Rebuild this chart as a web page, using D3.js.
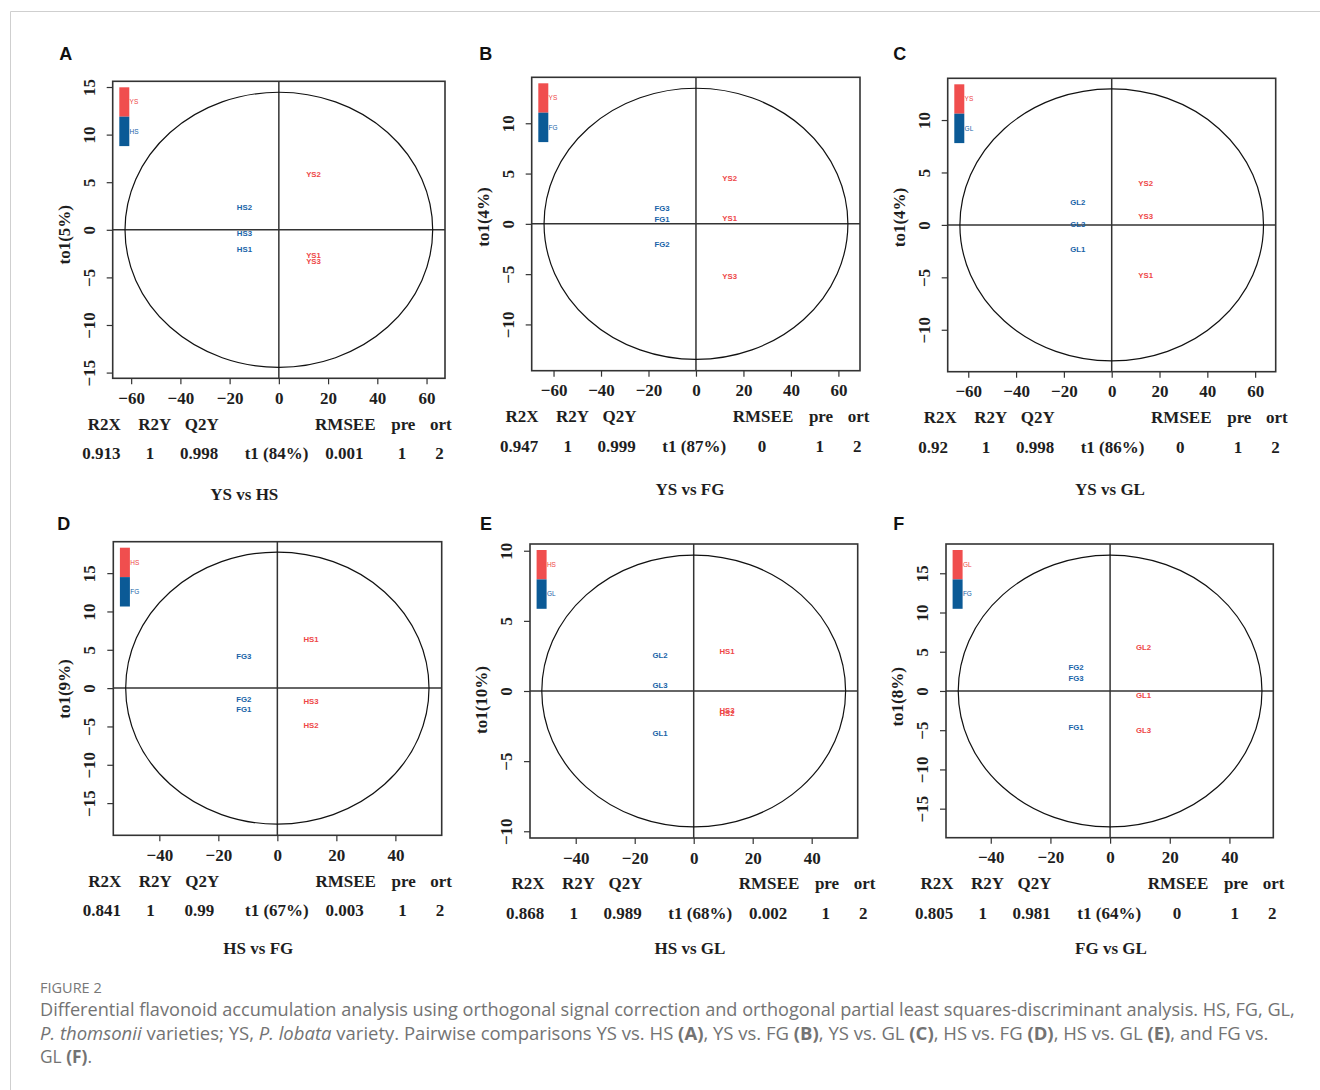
<!DOCTYPE html>
<html><head><meta charset="utf-8">
<script src="https://cdn.jsdelivr.net/npm/d3@7"></script>
<style>body{margin:0;background:#fff} svg{display:block}</style>
</head><body>
<svg id="c" width="1320" height="1090"></svg>
<script>
// ---------------- DATA ----------------
const panelLetters = ["A","B","C","D","E","F"];
const panelTitles = ["YS vs HS","YS vs FG","YS vs GL","HS vs FG","HS vs GL","FG vs GL"];
const yAxisLabels = ["to1(5%)","to1(4%)","to1(4%)","to1(9%)","to1(10%)","to1(8%)"];
const xAxisLabels = ["t1 (84%)","t1 (87%)","t1 (86%)","t1 (67%)","t1 (68%)","t1 (64%)"];
const groupRed  = ["YS","YS","YS","HS","HS","GL"];
const groupBlue = ["HS","FG","GL","FG","GL","FG"];
const summaryHeader = ["R2X","R2Y","Q2Y","RMSEE","pre","ort"];
const r2xValues   = ["0.913","0.947","0.92","0.841","0.868","0.805"];
const r2yValues   = ["1","1","1","1","1","1"];
const q2yValues   = ["0.998","0.999","0.998","0.99","0.989","0.981"];
const rmseeValues = ["0.001","0","0","0.003","0.002","0"];
const preValues   = ["1","1","1","1","1","1"];
const ortValues   = ["2","2","2","2","2","2"];
const xDomains = [[-67.5,67.5],[-69.2,69.1],[-68.6,68.6],[-55.6,55.7],[-55.5,55.6],[-55.0,54.7]];
const yDomains = [[-15.6,15.6],[-14.6,14.57],[-14.0,13.98],[-19.2,19.1],[-10.48,10.48],[-18.7,18.73]];
const xTicksWide = [-60,-40,-20,0,20,40,60];
const xTicksNarrow = [-40,-20,0,20,40];
const xTickSets = [xTicksWide,xTicksWide,xTicksWide,xTicksNarrow,xTicksNarrow,xTicksNarrow];
const yTicks15 = [-15,-10,-5,0,5,10,15];
const yTicks10 = [-10,-5,0,5,10];
const yTickSets = [yTicks15,yTicks10,yTicks10,yTicks15,yTicks10,yTicks15];
const ellipseRx = [62.5,64.0,63.5,51.4,51.5,50.9];
const ellipseRy = [14.45,13.48,12.97,17.74,9.69,17.32];
// scores: [label, group (0 = red, 1 = blue), t1, to1]
const scoresA = [["YS2",0,14.1,5.86],["YS1",0,14.1,-2.66],["YS3",0,14.1,-3.26],["HS2",1,-14.0,2.42],["HS3",1,-14.0,-0.38],["HS1",1,-14.0,-2.06]];
const scoresB = [["YS2",0,14.2,4.52],["YS1",0,14.2,0.60],["YS3",0,14.2,-5.17],["FG3",1,-14.3,1.53],["FG1",1,-14.3,0.43],["FG2",1,-14.3,-2.05]];
const scoresC = [["YS2",0,14.2,3.95],["YS3",0,14.2,0.80],["YS1",0,14.2,-4.83],["GL2",1,-14.2,2.17],["GL3",1,-14.2,0.07],["GL1",1,-14.2,-2.35]];
const scoresD = [["HS1",0,11.4,6.39],["HS3",0,11.4,-1.66],["HS2",0,11.4,-4.79],["FG3",1,-11.4,4.17],["FG2",1,-11.4,-1.48],["FG1",1,-11.4,-2.74]];
const scoresE = [["HS1",0,11.3,2.83],["HS3",0,11.3,-1.35],["HS2",0,11.3,-1.57],["GL2",1,-11.4,2.57],["GL3",1,-11.4,0.38],["GL1",1,-11.4,-3.02]];
const scoresF = [["GL2",0,11.2,5.61],["GL1",0,11.2,-0.51],["GL3",0,11.2,-5.06],["FG2",1,-11.4,2.97],["FG3",1,-11.4,1.57],["FG1",1,-11.4,-4.59]];
const scoreSets = [scoresA,scoresB,scoresC,scoresD,scoresE,scoresF];

// ---------------- LAYOUT ----------------
const boxes = [[112.7,81.3,445,378.3],[531.7,77.3,860,370.7],[947.7,78.3,1275.7,371.7],
               [113.3,541.7,441.7,835.3],[530,544,857.7,838],[946,544,1273.3,837.7]];
const letterX = [59.3,479.3,893.3,57.3,480,893.3];
const letterY = [60,60,60,529.5,529.5,529.5];
const titleX = [244.3,690,1110,258.3,690,1111];
const titleY = [499.5,494.7,494.7,953.6,953.6,953.6];
const tableLeft = [82.3,500,918.3,82.7,506,915];
const headerCols = [22,72.5,119.5,263,321,358.5];
const valueCols = [0,67.7,116.7,194.2,262,319.7,357.2];
const ylabDy = [5,-7,-7.5,0.5,9,6];
const RED = "#F04E4E", BLUE = "#0B5A96", RED_T = "#EE4747", BLUE_T = "#1763A8";
const SERIF = "'Liberation Serif','Times New Roman',Times,serif";
const SANS = "'Liberation Sans',Arial,Helvetica,sans-serif";
const INK = "#1e1e1e";

const svg = d3.select("#c");
svg.append("path").attr("d","M10.5,1090 V11.5 H1320").attr("fill","none").attr("stroke","#cfcfcf").attr("stroke-width",1);

function serifText(g, x, y, txt, anchor){
  return g.append("text").attr("x",x).attr("y",y).text(txt)
    .attr("font-family",SERIF).attr("font-weight","bold").attr("font-size",17)
    .attr("fill",INK).attr("text-anchor",anchor||"middle");
}

for (let i=0;i<6;i++){
  const b = boxes[i];
  const x = d3.scaleLinear().domain(xDomains[i]).range([b[0],b[2]]);
  const y = d3.scaleLinear().domain(yDomains[i]).range([b[3],b[1]]);
  const g = svg.append("g");

  g.append("text").attr("x",letterX[i]).attr("y",letterY[i]).text(panelLetters[i])
    .attr("font-family",SANS).attr("font-weight","bold").attr("font-size",18).attr("fill","#111");

  g.append("line").attr("x1",x(0)).attr("x2",x(0)).attr("y1",b[1]).attr("y2",b[3])
    .attr("stroke","#333").attr("stroke-width",1.5);
  g.append("line").attr("x1",b[0]).attr("x2",b[2]).attr("y1",y(0)).attr("y2",y(0))
    .attr("stroke","#333").attr("stroke-width",1.5);
  g.append("ellipse").attr("cx",x(0)).attr("cy",y(0))
    .attr("rx",x(ellipseRx[i])-x(0)).attr("ry",y(0)-y(ellipseRy[i]))
    .attr("fill","none").attr("stroke","#111").attr("stroke-width",1.2);
  g.append("rect").attr("x",b[0]).attr("y",b[1]).attr("width",b[2]-b[0]).attr("height",b[3]-b[1])
    .attr("fill","none").attr("stroke","#333").attr("stroke-width",1.6);

  const ax = g.append("g").attr("transform",`translate(0,${b[3]})`)
    .call(d3.axisBottom(x).tickValues(xTickSets[i]).tickSize(6).tickSizeOuter(0).tickFormat(d3.format("d")));
  ax.select(".domain").remove();
  ax.selectAll(".tick line").attr("stroke","#333").attr("stroke-width",1.2);
  ax.selectAll(".tick text").attr("y",25.5).attr("dy",null)
    .attr("font-family",SERIF).attr("font-weight","bold").attr("font-size",17).attr("fill",INK);

  const ay = g.append("g").attr("transform",`translate(${b[0]},0)`)
    .call(d3.axisLeft(y).tickValues(yTickSets[i]).tickSize(6).tickSizeOuter(0).tickFormat(d3.format("d")));
  ay.select(".domain").remove();
  ay.selectAll(".tick line").attr("stroke","#333").attr("stroke-width",1.2);
  ay.selectAll(".tick text").attr("x",0).attr("dy",0).attr("transform","translate(-18,0) rotate(-90)")
    .attr("text-anchor","middle")
    .attr("font-family",SERIF).attr("font-weight","bold").attr("font-size",17).attr("fill",INK);

  const cy = (b[1]+b[3])/2 + ylabDy[i];
  g.append("text").text(yAxisLabels[i]).attr("transform",`translate(${b[0]-43},${cy}) rotate(-90)`)
    .attr("text-anchor","middle").attr("font-family",SERIF).attr("font-weight","bold")
    .attr("font-size",17).attr("fill",INK);

  const lx = b[0]+6.6, ly = b[1]+6, lh = 29.4;
  g.append("rect").attr("x",lx).attr("y",ly).attr("width",10).attr("height",lh).attr("fill",RED);
  g.append("rect").attr("x",lx).attr("y",ly+lh).attr("width",10).attr("height",lh).attr("fill",BLUE);
  g.append("text").attr("x",lx+10.3).attr("y",ly+lh/2).attr("dy","0.35em").text(groupRed[i])
    .attr("font-family",SANS).attr("font-size",6.5).attr("fill",RED_T);
  g.append("text").attr("x",lx+10.3).attr("y",ly+lh*1.5).attr("dy","0.35em").text(groupBlue[i])
    .attr("font-family",SANS).attr("font-size",6.5).attr("fill",BLUE_T);

  g.selectAll("text.score").data(scoreSets[i]).enter().append("text").attr("class","score")
    .attr("x",d=>x(d[2])).attr("y",d=>y(d[3])).attr("dy","0.36em").attr("text-anchor","middle")
    .text(d=>d[0]).attr("font-family",SANS).attr("font-weight","bold").attr("font-size",7.8)
    .attr("fill",d=>d[1]===0?RED_T:BLUE_T);

  const hy = b[3]+51.3, vy = b[3]+80.8, tl = tableLeft[i];
  summaryHeader.forEach((h,k)=>serifText(g, tl+headerCols[k], hy, h));
  const vals = [r2xValues[i], r2yValues[i], q2yValues[i], xAxisLabels[i], rmseeValues[i], preValues[i], ortValues[i]];
  vals.forEach((v,k)=>serifText(g, tl+valueCols[k], vy, v, k===0?"start":"middle"));

  serifText(g, titleX[i], titleY[i], panelTitles[i]);
}

// ---------------- CAPTION ----------------
const CAP = "'Open Sans', Lato, sans-serif";
const capColor = "#737373";
svg.append("text").attr("x",40).attr("y",992.5).text("FIGURE 2")
  .attr("font-family",CAP).attr("font-size",14.5).attr("fill","#777");

const capLines = [
  [["Differential flavonoid accumulation analysis using orthogonal signal correction and orthogonal partial least squares-discriminant analysis. HS, FG, GL,",""]],
  [["P. thomsonii","i"],[" varieties; YS, ",""],["P. lobata","i"],[" variety. Pairwise comparisons YS vs. HS ",""],["(A)","b"],[", YS vs. FG ",""],["(B)","b"],[", YS vs. GL ",""],["(C)","b"],[", HS vs. FG ",""],["(D)","b"],[", HS vs. GL ",""],["(E)","b"],[", and FG vs.",""]],
  [["GL ",""],["(F)","b"],[".",""]]
];
const capY = [1016,1039.5,1063];
const capTargets = [1256,1229,52];
capLines.forEach((line,li)=>{
  const t = svg.append("text").attr("x",40).attr("y",capY[li])
    .attr("font-family",CAP).attr("font-size",16).attr("fill",capColor);
  line.forEach(seg=>{
    const s = t.append("tspan").text(seg[0]);
    if (seg[1]==="i") s.attr("font-style","italic");
    if (seg[1]==="b") s.attr("font-weight","bold");
  });
  const w = t.node().getComputedTextLength();
  const fs = Math.max(14, Math.min(19, 16*capTargets[li]/w));
  t.attr("font-size", fs.toFixed(2));
});
</script>
</body></html>
